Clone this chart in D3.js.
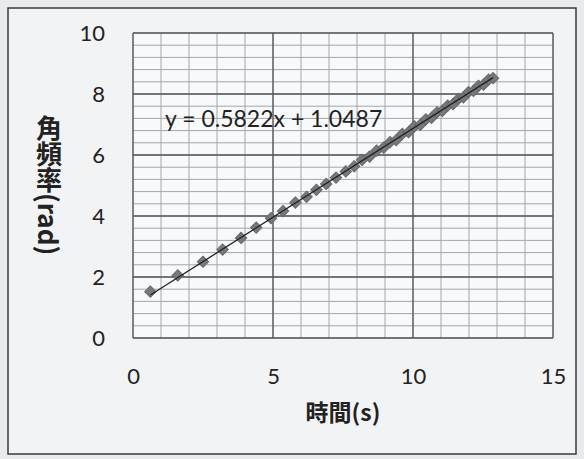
<!DOCTYPE html>
<html>
<head>
<meta charset="utf-8">
<script src="https://cdn.jsdelivr.net/npm/d3@7"></script>
<style>
  html, body { margin: 0; padding: 0; background: #e8eaed; }
  svg { display: block; }
</style>
</head>
<body>
<svg id="chart" width="584" height="459"></svg>
<script>
// Measured angular frequency (rad) against time (s)
const times = [0.62, 1.60, 2.50, 3.20, 3.86, 4.40, 4.93, 5.36, 5.80, 6.20, 6.55, 6.90, 7.25,
  7.60, 7.90, 8.18, 8.45, 8.70, 8.95, 9.18, 9.40, 9.62, 9.84, 10.05, 10.26, 10.46, 10.66,
  10.86, 11.05, 11.24, 11.43, 11.62, 11.80, 11.98, 12.16, 12.34, 12.52, 12.70, 12.86];
const omegas = [1.52, 2.05, 2.50, 2.90, 3.28, 3.62, 3.93, 4.16, 4.44, 4.63, 4.86, 5.05, 5.26,
  5.46, 5.63, 5.84, 5.95, 6.14, 6.24, 6.42, 6.49, 6.69, 6.75, 6.94, 6.99, 7.17, 7.22,
  7.40, 7.45, 7.62, 7.67, 7.84, 7.89, 8.06, 8.10, 8.27, 8.31, 8.47, 8.52];

// Linear trendline
const slope = 0.5822;
const intercept = 1.0487;
const trendLabel = "y = 0.5822x + 1.0487";

const xTicks = [0, 5, 10, 15];
const yTicks = [0, 2, 4, 6, 8, 10];
const xTitle = "時間(s)";
const yTitle = "角頻率(rad)";

const svg = d3.select("#chart");

// Chart area frame
svg.append("rect").attr("x", 8).attr("y", 8).attr("width", 568).attr("height", 446)
  .attr("fill", "#f2f3f5").attr("stroke", "#3a3a3a").attr("stroke-width", 1.5);

const x = d3.scaleLinear().domain([0, 15]).range([133, 553]);
const y = d3.scaleLinear().domain([0, 10]).range([338, 33]);

// Plot area
svg.append("rect").attr("x", x(0)).attr("y", y(10))
  .attr("width", x(15) - x(0)).attr("height", y(0) - y(10))
  .attr("fill", "#f8f9fa");

// Minor gridlines
const minorX = d3.range(0, 16, 1);
const minorY = d3.range(0, 10.001, 0.4);
svg.append("g").selectAll("line").data(minorX).join("line")
  .attr("x1", d => x(d)).attr("x2", d => x(d)).attr("y1", y(0)).attr("y2", y(10))
  .attr("stroke", "#a4a6aa").attr("stroke-width", 1);
svg.append("g").selectAll("line").data(minorY).join("line")
  .attr("y1", d => y(d)).attr("y2", d => y(d)).attr("x1", x(0)).attr("x2", x(15))
  .attr("stroke", "#a4a6aa").attr("stroke-width", 1);

// Major gridlines
svg.append("g").selectAll("line").data(xTicks).join("line")
  .attr("x1", d => x(d)).attr("x2", d => x(d)).attr("y1", y(0)).attr("y2", y(10))
  .attr("stroke", "#55575a").attr("stroke-width", 1.3);
svg.append("g").selectAll("line").data(yTicks).join("line")
  .attr("y1", d => y(d)).attr("y2", d => y(d)).attr("x1", x(0)).attr("x2", x(15))
  .attr("stroke", "#55575a").attr("stroke-width", 1.3);

// Axes (labels only)
const font = "Lato, 'Open Sans', sans-serif";
const xAxis = svg.append("g").attr("transform", `translate(0,${y(0)})`)
  .call(d3.axisBottom(x).tickValues(xTicks).tickSize(0).tickPadding(30));
const yAxis = svg.append("g").attr("transform", `translate(${x(0)},0)`)
  .call(d3.axisLeft(y).tickValues(yTicks).tickSize(0).tickPadding(28));
[xAxis, yAxis].forEach(g => {
  g.select(".domain").remove();
  g.selectAll("text").attr("font-family", font).attr("font-size", 22).attr("fill", "#222");
});

// Data points (diamonds)
const pts = times.map((t, i) => [t, omegas[i]]);
svg.append("g").selectAll("path").data(pts).join("path")
  .attr("d", d3.symbol().type(d3.symbolSquare).size(64))
  .attr("transform", d => `translate(${x(d[0])},${y(d[1])}) rotate(45)`)
  .attr("fill", "#77797d").attr("stroke", "#65676b").attr("stroke-width", 1);

// Trendline over the data range
const tMin = d3.min(times), tMax = d3.max(times);
svg.append("line")
  .attr("x1", x(tMin)).attr("y1", y(slope * tMin + intercept))
  .attr("x2", x(tMax)).attr("y2", y(slope * tMax + intercept))
  .attr("stroke", "#222").attr("stroke-width", 1.3);

// Trendline equation
svg.append("text").attr("x", 165).attr("y", 127)
  .attr("font-family", font).attr("font-size", 23).attr("fill", "#222")
  .text(trendLabel);

// Axis titles
svg.append("text").attr("x", x(7.5)).attr("y", 421).attr("text-anchor", "middle")
  .attr("font-family", "'Noto Sans CJK TC', sans-serif").attr("font-weight", "bold")
  .attr("font-size", 23).attr("fill", "#222").text(xTitle);
svg.append("text").attr("x", 49).attr("y", 115)
  .attr("style", "writing-mode: vertical-rl")
  .attr("font-family", "'Noto Sans CJK TC', sans-serif").attr("font-weight", "bold")
  .attr("font-size", 26).attr("fill", "#222").text(yTitle);
</script>
</body>
</html>
